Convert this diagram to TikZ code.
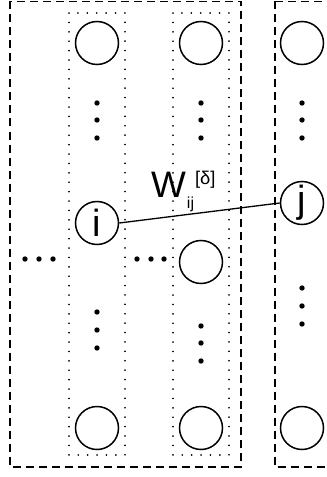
\documentclass[tikz,border=0pt]{standalone}
\usepackage{fontspec}
\setmainfont{Liberation Sans}
\begin{document}
\begin{tikzpicture}[x=1bp,y=-1bp,
  neuron/.style={circle,draw,line width=1.5bp,inner sep=0pt,minimum size=43bp,font=\fontsize{38}{38}\selectfont},
  layerbox/.style={draw,line width=1.8bp,dash pattern=on 8bp off 5bp},
  colbox/.style={draw,line width=1.7bp,line cap=round,dash pattern=on 0.1bp off 9.3bp},
  dotfill/.style={fill=black}]
\clip (0,0) rectangle (326,477);
% dashed layer boxes
\draw[layerbox] (10,1.5) rectangle (241,467);
\draw[layerbox] (275,1.5) rectangle (340,467);
% dotted column boxes
\draw[colbox] (69,13) rectangle (125,455);
\draw[colbox] (173,13) rectangle (229,455);
% neurons
\node[neuron] (a1) at (97,43) {};
\node[neuron] (b1) at (201,43) {};
\node[neuron] (c1) at (302,43) {};
\node[neuron] (i) at (97,223) {i};
\node[neuron] (j) at (302,203) {j};
\node[neuron] (b2) at (201,262) {};
\node[neuron] (a3) at (97,428) {};
\node[neuron] (b3) at (201,428) {};
\node[neuron] (c3) at (302,428) {};
% vertical dots
\foreach \x in {97,201,302} \foreach \y in {103,120,138} \fill[dotfill] (\x,\y) circle (2.7);
\foreach \y in {312,330,348} \fill[dotfill] (97,\y) circle (2.7);
\foreach \y in {326,343,361} \fill[dotfill] (201,\y) circle (2.7);
\foreach \y in {288,306,324} \fill[dotfill] (302,\y) circle (2.7);
% horizontal dots
\foreach \x in {25,39,53,137,151,164} \fill[dotfill] (\x,259) circle (2.7);
% connection
\draw[line width=1.3bp] (i.east) -- (j.west);
\node[inner sep=0pt,anchor=base west] (w) at (151,197)
  {{\fontsize{37}{37}\selectfont W}\hspace{1bp}\raisebox{-11bp}{\fontsize{16}{16}\selectfont ij}\hspace{1bp}\raisebox{12.5bp}{\fontsize{18.5}{18.5}\selectfont [δ]}};
\end{tikzpicture}
\end{document}
